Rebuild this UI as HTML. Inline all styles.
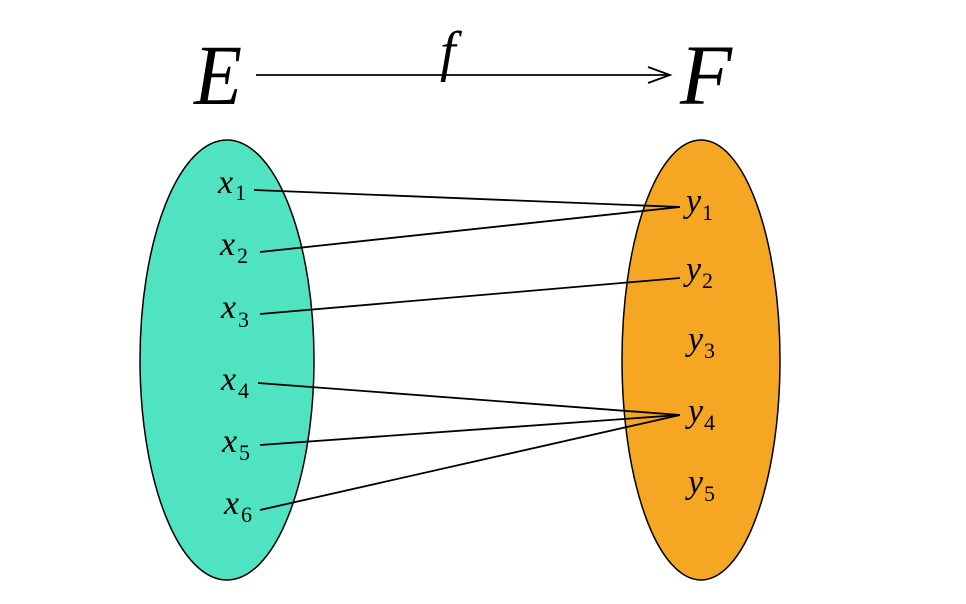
<!DOCTYPE html>
<html><head><meta charset="utf-8"><style>
html,body{margin:0;padding:0;background:#fff;}
svg{display:block;}
text{font-family:"Liberation Serif","DejaVu Serif",serif;fill:#000;}
.v{font-style:italic;font-size:34px;}
.s{font-size:22px;}
</style></head><body>
<svg width="966" height="604" viewBox="0 0 966 604" xmlns="http://www.w3.org/2000/svg">
<ellipse cx="227" cy="360" rx="87" ry="220" fill="#50e3c2" stroke="#000" stroke-width="1.5"/>
<ellipse cx="701" cy="360" rx="79" ry="220" fill="#f5a623" stroke="#000" stroke-width="1.5"/>
<text x="194" y="104" style="font-style:italic;font-size:86px" textLength="48" lengthAdjust="spacingAndGlyphs">E</text>
<text x="680" y="104" style="font-style:italic;font-size:86px" textLength="52" lengthAdjust="spacingAndGlyphs">F</text>
<text x="440" y="70" style="font-style:italic;font-size:56px">f</text>
<line x1="256" y1="75" x2="670" y2="75" stroke="#000" stroke-width="1.8"/>
<polyline points="648,67 670,75 648,83" fill="none" stroke="#000" stroke-width="1.8"/>
<g stroke="#000" stroke-width="1.8">
<line x1="254" y1="190" x2="680" y2="207"/>
<line x1="260" y1="252" x2="680" y2="207"/>
<line x1="260" y1="314" x2="680" y2="278"/>
<line x1="258" y1="383" x2="680" y2="415"/>
<line x1="260" y1="445" x2="680" y2="415"/>
<line x1="260" y1="510" x2="680" y2="415"/>
</g>
<text class="v" x="218" y="193">x</text><text class="s" x="235" y="200">1</text>
<text class="v" x="220" y="255">x</text><text class="s" x="237" y="263">2</text>
<text class="v" x="221" y="318">x</text><text class="s" x="238" y="327">3</text>
<text class="v" x="221" y="390">x</text><text class="s" x="238" y="398">4</text>
<text class="v" x="222" y="452">x</text><text class="s" x="239" y="460">5</text>
<text class="v" x="224" y="514">x</text><text class="s" x="241" y="522">6</text>
<text class="v" x="686" y="212">y</text><text class="s" x="702" y="220">1</text>
<text class="v" x="686" y="280">y</text><text class="s" x="702" y="288">2</text>
<text class="v" x="688" y="350">y</text><text class="s" x="704" y="358">3</text>
<text class="v" x="688" y="422">y</text><text class="s" x="704" y="430">4</text>
<text class="v" x="688" y="493">y</text><text class="s" x="704" y="501">5</text>
</svg>
</body></html>
